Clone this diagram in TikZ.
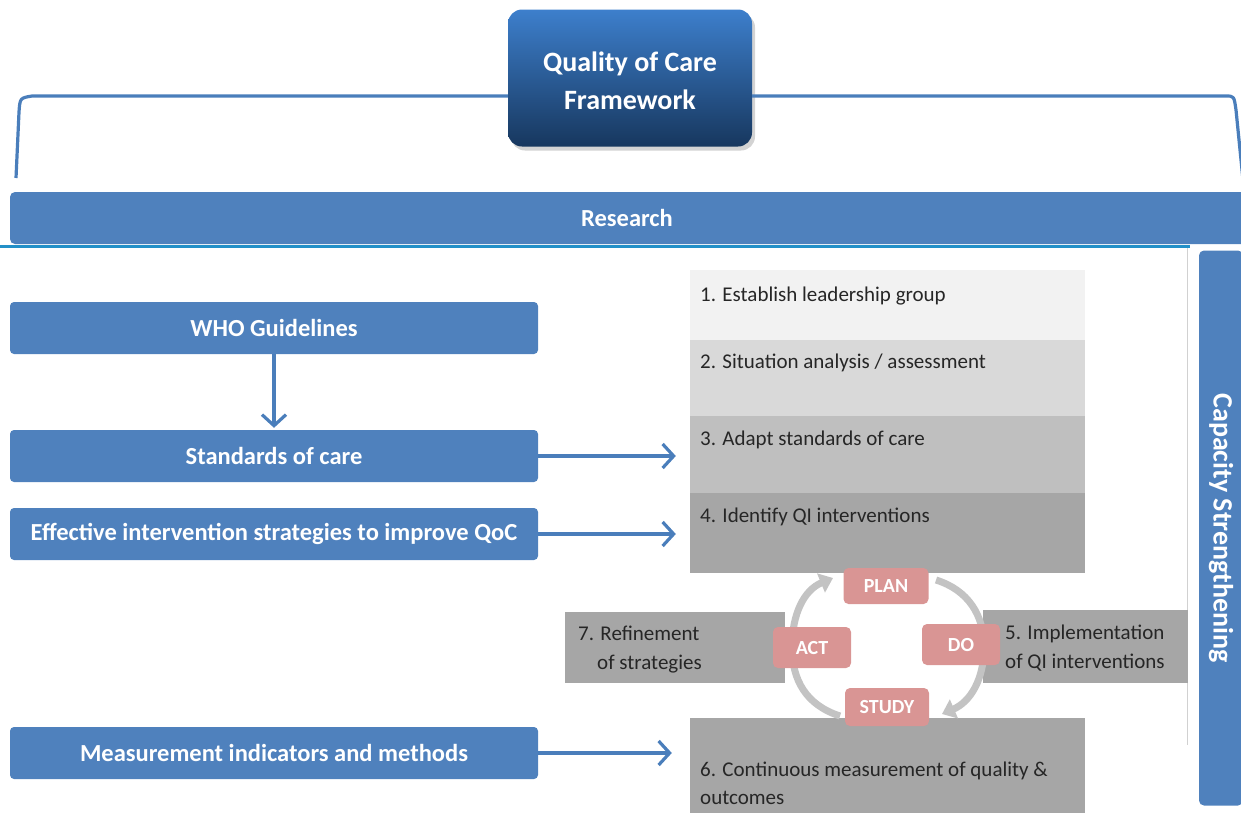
\documentclass[tikz,border=0pt]{standalone}
\usepackage{fontspec}
\setmainfont{Carlito}
\usetikzlibrary{arrows.meta,shadows}
\definecolor{qblue}{HTML}{4F81BD}
\definecolor{linkblue}{HTML}{4A7EBB}
\definecolor{tealline}{HTML}{2390C8}
\definecolor{navytop}{HTML}{3D7FCC}
\definecolor{navybot}{HTML}{17375E}
\definecolor{g1}{HTML}{F2F2F2}
\definecolor{g2}{HTML}{D9D9D9}
\definecolor{g3}{HTML}{BFBFBF}
\definecolor{g4}{HTML}{A6A6A6}
\definecolor{pinkbox}{HTML}{D99594}
\definecolor{darktext}{HTML}{262626}
\definecolor{arcgray}{HTML}{C3C3C3}
\begin{document}
\begin{tikzpicture}[x=1pt,y=-1pt,
  bluebox/.style={fill=qblue, rounded corners=4pt, text=white, inner sep=0pt,
    font=\bfseries\fontsize{24.5}{28}\selectfont, minimum height=52pt, minimum width=528pt},
  graybox/.style={inner sep=0pt, minimum width=395pt},
  sidebox/.style={fill=g4, inner sep=0pt},
  steptext/.style={anchor=base west, inner sep=0pt, text=darktext, font=\fontsize{21}{25}\selectfont},
  pdsa/.style={fill=pinkbox, rounded corners=5pt, text=white, inner sep=0pt,
    font=\bfseries\fontsize{20}{22}\selectfont},
  barrow/.style={draw=linkblue, line width=3.2pt, -{Straight Barb[length=11pt,width=24pt]}},
  cyclearrow/.style={draw=arcgray, line width=7pt, -{Triangle[length=13pt,width=20pt]}},
  bracketline/.style={draw=linkblue, line width=3.2pt, line join=round}
]
\useasboundingbox (0,0) rectangle (1241,815);

% top box with bracket
\node[top color=navytop, bottom color=navybot, rounded corners=14pt, minimum width=244pt,
  minimum height=137pt, inner sep=0pt, drop shadow={opacity=0.35,shadow xshift=3pt,shadow yshift=-4pt}]
  (qoc) at (630,78) {};
\node[text=white, align=center, inner sep=0pt, font=\bfseries\fontsize{28}{38}\selectfont]
  (qoctext) at (630,81) {Quality of Care\\Framework};
\coordinate (bl) at (16,178);
\coordinate (br) at (1243,180);
\draw[bracketline] (bl) -- (19,112) .. controls (20,98) .. (32,96) -- (qoc.west |- 0,96);
\draw[bracketline] (qoc.east |- 0,96) -- (1226,96) .. controls (1234,96) .. (1236,110) -- (br);

% research bar
\node[fill=qblue, rounded corners=5pt, minimum width=1240pt, minimum height=52pt, inner sep=0pt,
  text=white, font=\bfseries\fontsize{24.5}{28}\selectfont] (research) at (630,218) {\hspace*{-6pt}Research};
\coordinate (tl0) at (0,246);
\coordinate (tl1) at (1190,246);
\draw[draw=tealline, line width=3pt] (tl0) -- (tl1);

% thin gray frame line
\coordinate (fl0) at (1187,248);
\coordinate (fl1) at (1187,745);
\draw[draw=black!18, line width=1pt] (fl0) -- (fl1);

% capacity strengthening
\node[fill=qblue, rounded corners=5pt, rotate=-90, minimum width=555pt, minimum height=44pt,
  inner sep=0pt, text=white, font=\bfseries\fontsize{28}{30}\selectfont] (cap) at (1221,528) {Capacity Strengthening};

% left boxes
\node[bluebox] (who) at (274,328) {WHO Guidelines};
\node[bluebox] (std) at (274,456) {Standards of care};
\node[bluebox] (eff) at (274,534) {Effective intervention strategies to improve QoC};
\node[bluebox] (meas) at (274,753) {Measurement indicators and methods};

% step boxes
\node[graybox, fill=g1, minimum height=70pt] (s1) at (887.5,305) {};
\node[graybox, fill=g2, minimum height=76pt] (s2) at (887.5,378) {};
\node[graybox, fill=g3, minimum height=77pt] (s3) at (887.5,454.5) {};
\node[graybox, fill=g4, minimum height=80pt] (s4) at (887.5,533) {};
\node[graybox, fill=g4, minimum height=95pt] (s6) at (887.5,765.5) {};
\node[sidebox, minimum width=220pt, minimum height=71pt] (s7) at (675,647.5) {};
\node[sidebox, minimum width=205pt, minimum height=73pt] (s5) at (1085.5,646.5) {};

\node[steptext] (t1) at (700,301) {1. Establish leadership group};
\node[steptext] (t2) at (700,368) {2. Situation analysis / assessment};
\node[steptext] (t3) at (700,445) {3. Adapt standards of care};
\node[steptext] (t4) at (700,522) {4. Identify QI interventions};
\node[steptext] (t6a) at (700,776) {6. Continuous measurement of quality \&};
\node[steptext] (t6b) at (700,804) {outcomes};
\node[steptext] (t7a) at (578,640) {7. Refinement};
\node[steptext] (t7b) at (597,669) {of strategies};
\node[steptext] (t5a) at (1005,639) {5. Implementation};
\node[steptext] (t5b) at (1005,668) {of QI interventions};

% arrows
\draw[barrow, shorten >=2pt] (who.south) -- (std.north);
\draw[barrow, shorten >=14pt] (std.east) -- (std.east -| s3.west);
\draw[barrow, shorten >=14pt] (eff.east) -- (eff.east -| s4.west);
\draw[barrow, shorten >=18pt] (meas.east) -- (meas.east -| s6.west);

% PDSA cycle arcs
\coordinate (la) at (840,716);
\coordinate (lb) at (833,578);
\coordinate (ra) at (936,580);
\coordinate (rb) at (942,714);
\draw[cyclearrow] (la) .. controls (806,705) and (792,680) .. (792,647) .. controls (792,614) and (804,590) .. (lb);
\draw[cyclearrow] (ra) .. controls (968,590) and (984,615) .. (984,647) .. controls (984,680) and (970,702) .. (rb);

% PDSA labels
\node[pdsa, minimum width=85pt, minimum height=36pt] (plan) at (886,586) {PLAN};
\node[pdsa, minimum width=78pt, minimum height=41pt] (do) at (961,644.5) {DO};
\node[pdsa, minimum width=84pt, minimum height=38pt] (study) at (887,707) {STUDY};
\node[pdsa, minimum width=78pt, minimum height=41pt] (act) at (812,647.5) {ACT};
\end{tikzpicture}
\end{document}
